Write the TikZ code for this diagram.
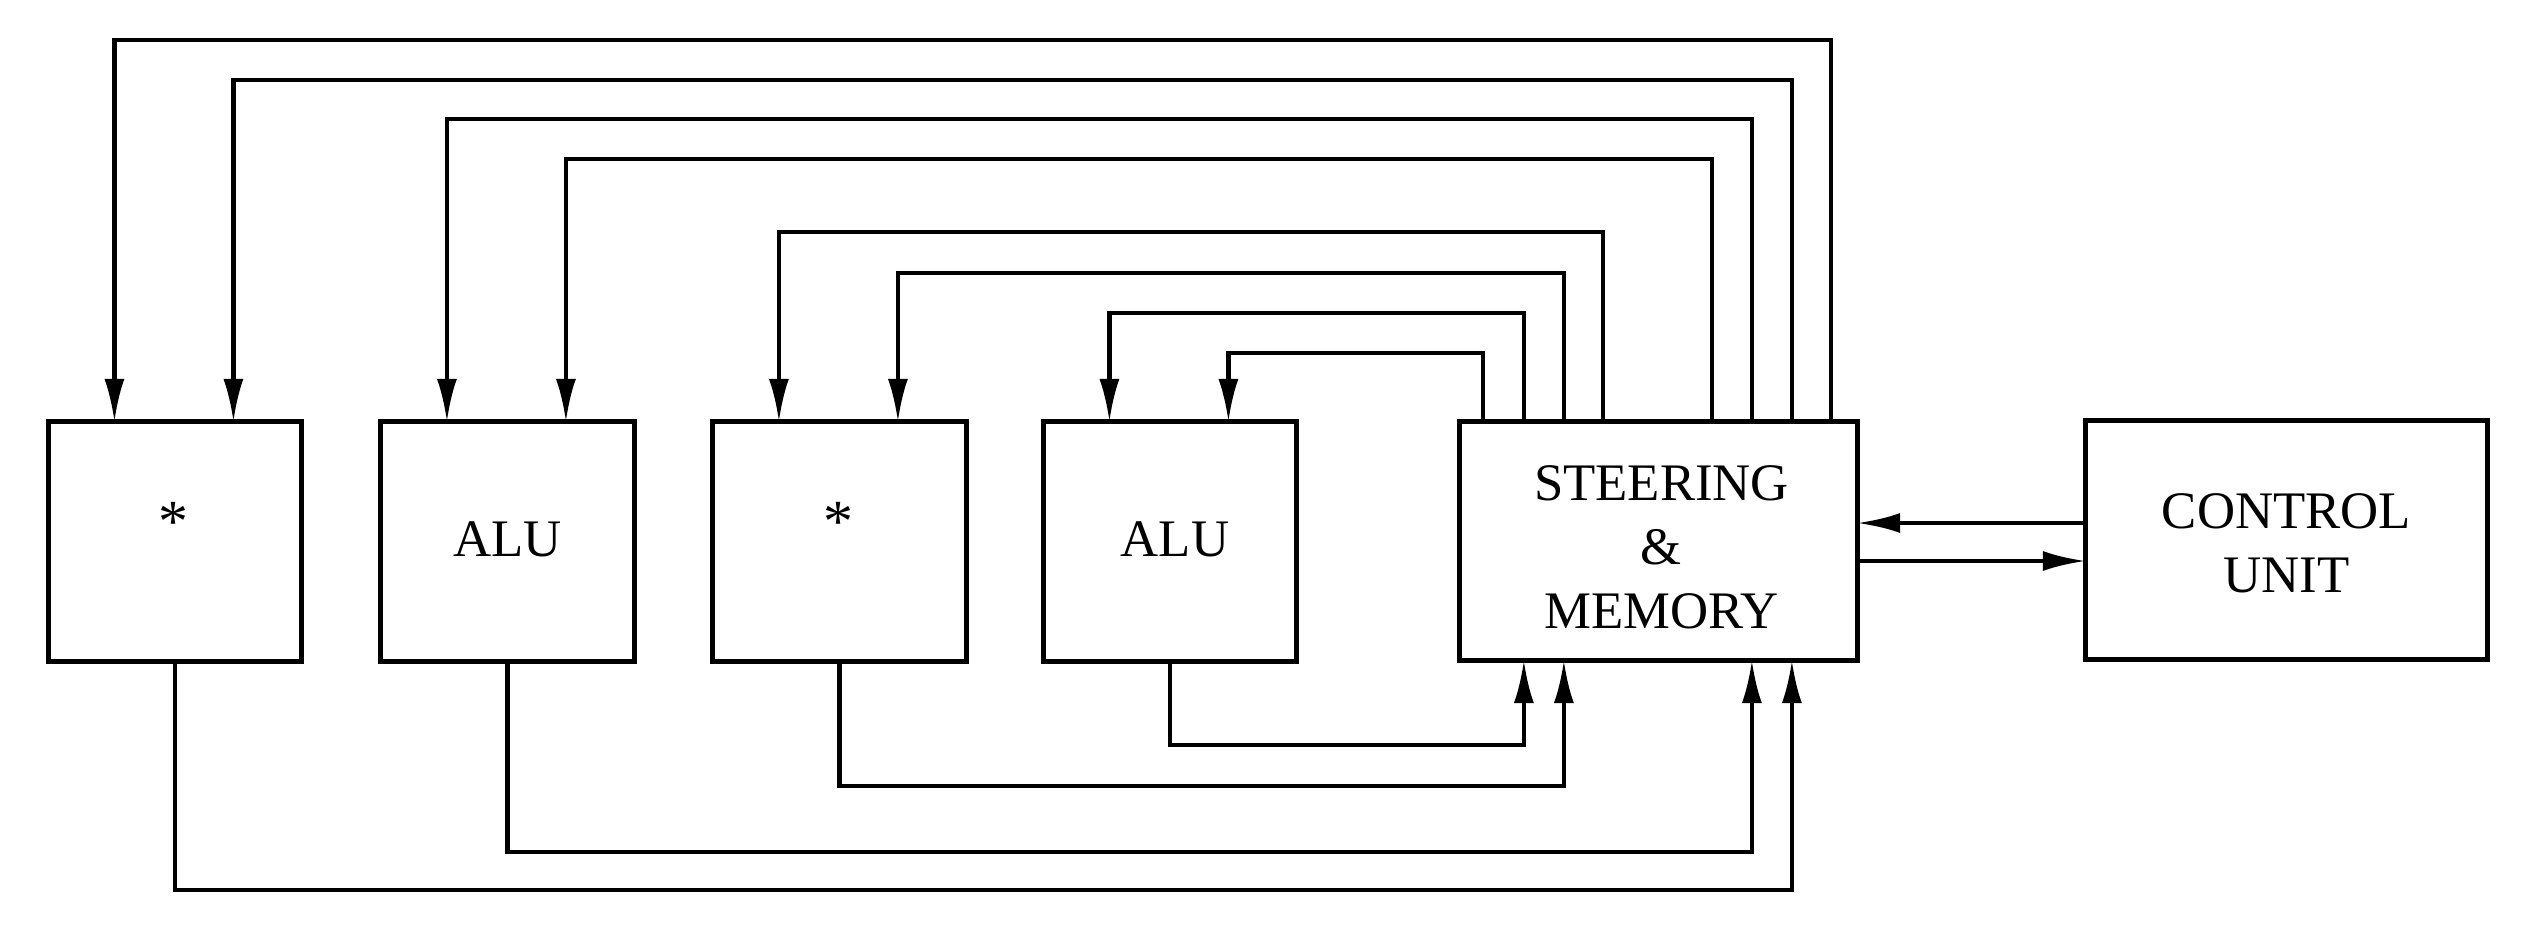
\documentclass[tikz,border=0pt]{standalone}
\usepackage{fontspec}
\setmainfont{Liberation Serif}
\usetikzlibrary{arrows.meta,calc}
\begin{document}
\begin{tikzpicture}[x=0.01cm,y=-0.01cm,
  blk/.style={draw, line width=1.4pt, inner sep=0pt, outer sep=0pt, minimum width=2.53cm, minimum height=2.39cm},
  lbl/.style={inner sep=0pt, align=center, font=\fontsize{15}{18.2}\selectfont},
  star/.style={inner sep=0pt, font=\fontsize{17}{17}\selectfont},
  conn/.style={line width=1.2pt},
  arr/.style={conn, -{Latex[length=4.3mm,width=2mm]}}]
\useasboundingbox (0,0) rectangle (2526,948);
% boxes
\node[blk] (m1) at (175,541.5) {};
\node[blk] (a1) at (507.5,541.5) {};
\node[blk] (m2) at (839.5,541.5) {};
\node[blk] (a2) at (1170,541.5) {};
\node[blk, minimum width=3.97cm, minimum height=2.38cm] (sm) at (1658.5,541) {};
\node[blk, minimum width=4.01cm, minimum height=2.38cm] (cu) at (2286.5,540) {};
% labels
\node[star, anchor=base] (m1t) at ($(m1.center)+(-2,0)$) {*};
\node[lbl, anchor=base] (a1t) at ($(a1.center)+(0,14.5)$) {ALU};
\node[star, anchor=base] (m2t) at ($(m2.center)+(-1,0)$) {*};
\node[lbl, anchor=base] (a2t) at ($(a2.center)+(5,14.5)$) {ALU};
\node[lbl] (smt) at ($(sm.center)+(3,6)$) {STEERING\\\&\\MEMORY};
\node[lbl] (cut) at ($(cu.center)+(0,3)$) {CONTROL\\UNIT};
% feedback lines from steering & memory to unit inputs
\draw[arr] ($(sm.north west)+(371,0)$) |- ($(m1.north west)+(66,-382)$) -- ($(m1.north west)+(66,0)$);
\draw[arr] ($(sm.north west)+(332,0)$) |- ($(m1.north west)+(185,-342)$) -- ($(m1.north west)+(185,0)$);
\draw[arr] ($(sm.north west)+(292,0)$) |- ($(a1.north west)+(66,-303)$) -- ($(a1.north west)+(66,0)$);
\draw[arr] ($(sm.north west)+(252,0)$) |- ($(a1.north west)+(185,-263)$) -- ($(a1.north west)+(185,0)$);
\draw[arr] ($(sm.north west)+(143,0)$) |- ($(m2.north west)+(66,-190)$) -- ($(m2.north west)+(66,0)$);
\draw[arr] ($(sm.north west)+(104,0)$) |- ($(m2.north west)+(185,-149)$) -- ($(m2.north west)+(185,0)$);
\draw[arr] ($(sm.north west)+(64,0)$) |- ($(a2.north west)+(66,-109)$) -- ($(a2.north west)+(66,0)$);
\draw[arr] ($(sm.north west)+(23,0)$) |- ($(a2.north west)+(185,-69)$) -- ($(a2.north west)+(185,0)$);
% outputs to steering & memory
\draw[arr] (a2.south) |- ($(sm.south west)+(64,85)$) -- ($(sm.south west)+(64,0)$);
\draw[arr] (m2.south) |- ($(sm.south west)+(104,126)$) -- ($(sm.south west)+(104,0)$);
\draw[arr] (a1.south) |- ($(sm.south west)+(292,192)$) -- ($(sm.south west)+(292,0)$);
\draw[arr] (m1.south) |- ($(sm.south west)+(332,230)$) -- ($(sm.south west)+(332,0)$);
% control unit links
\coordinate (cuin) at ($(cu.west)+(0,-17)$);
\coordinate (cuout) at ($(cu.west)+(0,21)$);
\draw[arr] (cuin) -- (cuin -| sm.east);
\draw[arr] (cuout -| sm.east) -- (cuout);
\end{tikzpicture}
\end{document}
